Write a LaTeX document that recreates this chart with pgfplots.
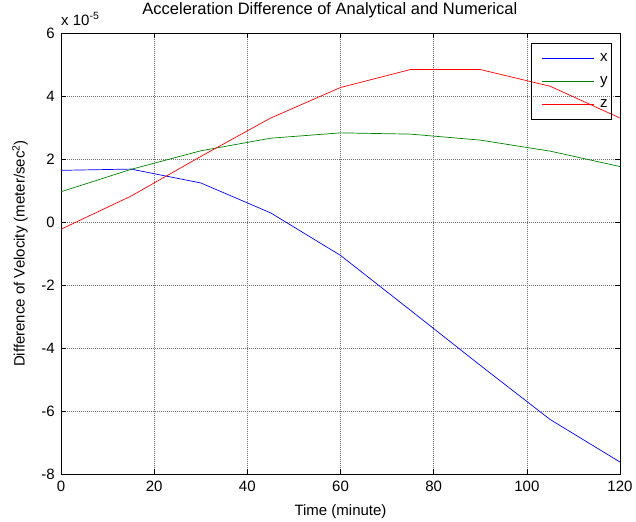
\documentclass[border=0pt]{standalone}
\usepackage{pgfplots}
\pgfplotsset{compat=1.18}
\usepackage{fontspec}
\setmainfont{Liberation Sans}
\begin{document}
\fontsize{15bp}{18bp}\selectfont
\begin{tikzpicture}
\path[use as bounding box] (-61bp,-48bp) rectangle (575bp,474bp);
\begin{axis}[
  at={(0,0)}, anchor=south west,
  scale only axis, width=559bp, height=441bp,
  clip mode=individual,
  xmin=0, xmax=120, ymin=-8, ymax=6,
  xtick={0,20,40,60,80,100,120},
  xticklabels={0,20,40,60,80,100,120},
  ytick={-8,-6,-4,-2,0,2,4,6},
  yticklabels={-8,-6,-4,-2,0,2,4,6},
  grid=major,
  major grid style={black!55, dash pattern=on 1bp off 1bp, line width=0.6bp},
  tick align=inside, major tick length=5bp,
  tick style={black, line width=0.6bp},
  axis line style={black, line width=0.9bp},
  ticklabel style={font=\fontsize{15bp}{18bp}\selectfont},
  xticklabel style={yshift=-2bp},
  yticklabel style={xshift=-1bp},
  xlabel={Time (minute)},
  ylabel={Difference of Velocity (meter/sec\textsuperscript{2})},
  label style={font=\fontsize{15bp}{18bp}\selectfont},
  xlabel style={at={(axis description cs:0.5,-0.093)}, anchor=base},
  ylabel style={at={(axis description cs:-0.0733,0.5)}, anchor=center},
  title={Acceleration Difference of Analytical and Numerical},
  title style={at={(axis description cs:0.481,1.0295)}, anchor=base, font=\fontsize{16.5bp}{19bp}\selectfont},
  legend style={at={(rel axis cs:0.986,0.978)}, anchor=north east,
    draw=black, line width=0.9bp, fill=none,
    font=\fontsize{15bp}{18bp}\selectfont,
    row sep=9bp, inner xsep=2bp, inner ysep=8bp,
    cells={anchor=west}},
  legend image code/.code={\path (-8bp,0bp) (56bp,0bp); \draw[#1] (0bp,0bp) -- (52bp,0bp);},
]
\addplot[blue, line width=0.7bp] coordinates {
 (0,1.64) (15,1.68) (30,1.24) (45,0.29) (60,-1.06) (75,-2.80) (90,-4.55) (105,-6.27) (120,-7.62)};
\addplot[green!50!black, line width=0.7bp] coordinates {
 (0,0.96) (15,1.67) (30,2.26) (45,2.66) (60,2.83) (75,2.79) (90,2.60) (105,2.25) (120,1.76)};
\addplot[red, line width=0.7bp] coordinates {
 (0,-0.23) (15,0.82) (30,2.08) (45,3.30) (60,4.27) (75,4.84) (90,4.84) (105,4.31) (120,3.30)};
\legend{x,y,z}
\node[anchor=base west, inner sep=0pt] at (rel axis cs:0,1.018) {x 10\textsuperscript{-5}};
\end{axis}
\end{tikzpicture}
\end{document}
